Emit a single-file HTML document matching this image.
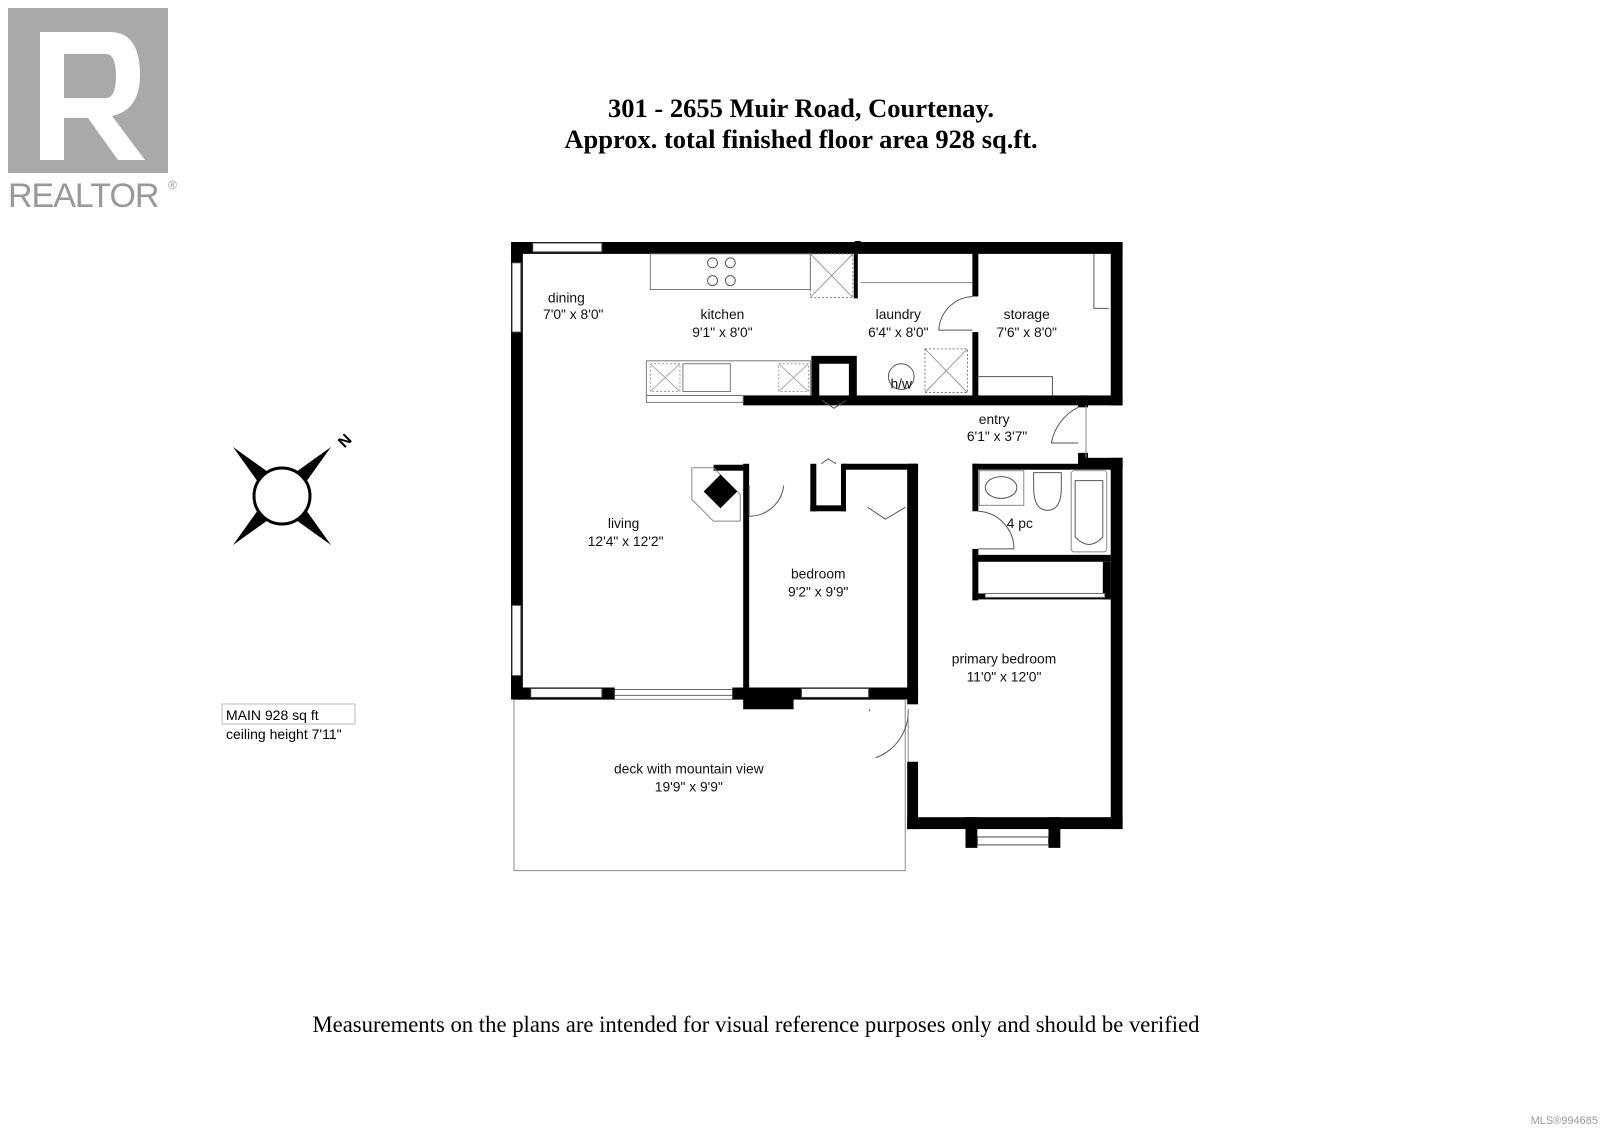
<!DOCTYPE html>
<html><head><meta charset="utf-8"><style>
html,body{margin:0;padding:0;background:#fff;width:1600px;height:1130px;overflow:hidden}
svg{display:block}
.t{font-family:"Liberation Sans",sans-serif;font-size:14px;fill:#111;text-anchor:middle}
.w{fill:#000}
.ln{fill:none;stroke:#555;stroke-width:1}
.win{fill:#fff;stroke:#444;stroke-width:1}
</style></head><body>
<svg width="1600" height="1130" viewBox="0 0 1600 1130" xmlns="http://www.w3.org/2000/svg">
<!-- REALTOR logo -->
<rect x="8" y="8" width="160" height="165" fill="#a9a9a9"/>
<path d="M40 32 H110 Q140 32 140 75 Q140 110 112 116 L145 160 H118 L88 118 H64 V160 H40 Z M64 54 V98 H106 Q116 98 116 76 Q116 54 106 54 Z" fill="#fff"/>
<text x="8" y="207" style="font-family:'Liberation Sans',sans-serif;font-size:34px;fill:#999;letter-spacing:-1px">REALTOR</text>
<text x="168" y="189" style="font-family:'Liberation Sans',sans-serif;font-size:12px;fill:#999">®</text>
<!-- Title -->
<text x="801" y="117" style="font-family:'Liberation Serif',serif;font-weight:bold;font-size:26.5px;text-anchor:middle">301 - 2655 Muir Road, Courtenay.</text>
<text x="801" y="148" style="font-family:'Liberation Serif',serif;font-weight:bold;font-size:26.5px;text-anchor:middle">Approx. total finished floor area 928 sq.ft.</text>
<!-- compass -->
<g transform="translate(282,496)">
<polygon points="-49,-49 -8,-6 -6,-8" fill="#000"/><polygon points="49,-49 8,-6 6,-8" fill="#000"/>
<polygon points="-49,49 -8,6 -6,8" fill="#000"/><polygon points="49,49 8,6 6,8" fill="#000"/>
<polygon points="-49,-49 -14,-24 -24,-14" fill="#000"/><polygon points="49,-49 14,-24 24,-14" fill="#000"/>
<polygon points="-49,49 -14,24 -24,14" fill="#000"/><polygon points="49,49 14,24 24,14" fill="#000"/>
<circle r="28" fill="#fff" stroke="#000" stroke-width="3"/>
<text x="63" y="-50" transform="rotate(-45 63 -55)" style="font-family:'Liberation Sans',sans-serif;font-weight:bold;font-size:16px;text-anchor:middle">N</text>
</g>
<!-- MAIN box -->
<rect x="222" y="704" width="133" height="20" fill="none" stroke="#bbb" stroke-width="1"/>
<text x="226" y="720" style="font-family:'Liberation Sans',sans-serif;font-size:14px">MAIN  928 sq ft</text>
<text x="226" y="739" style="font-family:'Liberation Sans',sans-serif;font-size:14px">ceiling height 7'11"</text>

<g transform="translate(511,242) scale(0.988,0.99) translate(-511,-242)">
<!-- deck -->
<rect x="514" y="704" width="396" height="173" fill="none" stroke="#888" stroke-width="1"/>
<!-- outer walls -->
<rect class="w" x="511" y="242" width="619" height="12"/>
<rect class="w" x="511" y="242" width="12" height="462"/>
<rect class="w" x="1118" y="242" width="12" height="165"/>
<rect class="w" x="746" y="397" width="384" height="10"/>
<rect class="w" x="1118" y="460" width="12" height="375"/>
<rect class="w" x="1085" y="460" width="45" height="10"/>
<rect class="w" x="1085" y="397" width="10" height="12"/>
<rect class="w" x="1085" y="455" width="10" height="12"/>
<line x1="1093" y1="407" x2="1093" y2="460" stroke="#888"/>
<path d="M1085 409 A50 50 0 0 0 1058 445 L1085 445" class="ln"/>
<rect class="w" x="912" y="823" width="218" height="12"/>
<rect class="w" x="971" y="823" width="12" height="31"/>
<rect class="w" x="1055" y="823" width="12" height="31"/>
<rect class="win" x="983" y="843" width="72" height="8"/>
<rect class="w" x="912" y="767" width="11" height="68"/>
<rect class="w" x="912" y="466" width="11" height="243"/>
<path d="M913 714 A50 50 0 0 1 880 763 M874 714 L874 716" class="ln"/>
<line x1="913" y1="714" x2="913" y2="767" stroke="#888"/>
<!-- bottom wall of living -->
<rect class="w" x="511" y="692" width="105" height="12"/>
<rect class="win" x="531" y="693" width="72" height="9"/>
<line x1="616" y1="694" x2="735" y2="694" stroke="#666"/><line x1="616" y1="700" x2="735" y2="700" stroke="#666"/>
<rect class="w" x="735" y="692" width="68" height="12"/>
<rect class="w" x="746" y="692" width="51" height="22"/>
<rect class="w" x="803" y="692" width="120" height="12"/>
<rect class="win" x="805" y="693" width="68" height="9"/>
<!-- left windows -->
<rect class="win" x="512" y="263" width="9" height="70"/>
<rect class="win" x="512" y="609" width="9" height="71"/>
<rect class="win" x="533" y="243" width="70" height="9"/>
<!-- kitchen -->
<rect x="652" y="254" width="162" height="36" fill="none" stroke="#777"/>
<g class="ln"><circle cx="715" cy="263" r="5"/><circle cx="733" cy="263" r="5"/><circle cx="715" cy="281" r="5"/><circle cx="733" cy="281" r="5"/></g>
<rect x="814" y="254" width="43" height="44" fill="none" stroke="#777" stroke-dasharray="2 2"/>
<path d="M814 254 L857 298 M857 254 L814 298" stroke="#999"/>
<rect class="w" x="858" y="254" width="4" height="45"/>
<rect x="648" y="362" width="166" height="35" fill="none" stroke="#777"/>
<rect x="648" y="397" width="98" height="7" fill="none" stroke="#777"/>
<rect x="685" y="365" width="48" height="28" fill="none" stroke="#777"/>
<rect x="652" y="365" width="30" height="28" fill="none" stroke="#999" stroke-dasharray="2 2"/>
<path d="M652 365 L682 393 M682 365 L652 393" stroke="#aaa"/>
<rect x="782" y="365" width="30" height="28" fill="none" stroke="#999" stroke-dasharray="2 2"/>
<path d="M782 365 L812 393 M812 365 L782 393" stroke="#aaa"/>
<!-- closet by kitchen -->
<path d="M819 397 V361 H857 V397" fill="none" stroke="#000" stroke-width="8"/>
<path d="M826 402 L838 410 L850 402" class="ln"/>
<!-- laundry -->
<rect class="w" x="859" y="241" width="6" height="12"/>
<line x1="865" y1="283" x2="978" y2="283" stroke="#888"/>
<rect class="w" x="978" y="242" width="6" height="55"/>
<rect class="w" x="978" y="333" width="6" height="70"/>
<path d="M978 297 A36 36 0 0 0 944 331 L978 331" class="ln"/>
<circle cx="906" cy="378" r="13" class="ln"/>
<rect x="930" y="350" width="43" height="44" fill="none" stroke="#777" stroke-dasharray="2 2"/>
<path d="M930 350 L973 394 M973 350 L930 394" stroke="#999"/>
<!-- storage -->
<path d="M984 378 H1059 V397" class="ln"/>
<path d="M1101 254 V309 H1116" class="ln"/>
<!-- bath -->
<rect class="w" x="978" y="466" width="152" height="6"/>
<rect class="w" x="978" y="466" width="6" height="48"/>
<rect class="w" x="978" y="552" width="6" height="52"/>
<rect class="w" x="978" y="558" width="140" height="7"/>
<rect class="w" x="978" y="597" width="140" height="6"/>
<rect class="w" x="1110" y="565" width="8" height="38"/>
<rect x="991" y="597" width="121" height="4" fill="#fff" stroke="#666"/>
<path d="M984 514 A38 38 0 0 1 1020 552 L984 552" class="ln"/>
<rect x="985" y="473" width="45" height="35" fill="none" stroke="#888"/>
<ellipse cx="1007" cy="490" rx="16" ry="11" class="ln"/>
<path d="M1040 475 H1068 V490 Q1068 513 1054 513 Q1040 513 1040 490 Z" class="ln"/>
<rect x="1078" y="473" width="36" height="82" rx="3" fill="none" stroke="#888"/>
<path d="M1082 483 V540 Q1096 555 1110 540 V483 Z" class="ln"/>
<!-- bedroom -->
<rect class="w" x="746" y="466" width="6" height="226"/>
<rect class="w" x="716" y="467" width="36" height="6"/>
<path d="M752 488 V519 A35 35 0 0 0 787 488" class="ln"/>
<rect class="w" x="814" y="466" width="6" height="48"/>
<rect class="w" x="814" y="508" width="36" height="6"/>
<rect class="w" x="845" y="466" width="5" height="48"/>
<rect class="w" x="848" y="466" width="75" height="6"/>
<path d="M825 466 L832 461 L840 466" class="ln"/>
<path d="M872 510 L890 522 L910 510" class="ln"/>
<!-- fireplace -->
<polygon points="694,470 716,470 743,497 743,524 716,524 694,502" fill="none" stroke="#888"/>
<polygon points="723,477 740,494 723,511 706,494" fill="#000"/>
<!-- labels -->
<text class="t" x="567" y="303">dining</text><text class="t" x="574" y="320">7'0" x 8'0"</text>
<text class="t" x="725" y="320">kitchen</text><text class="t" x="725" y="338">9'1" x 8'0"</text>
<text class="t" x="903" y="320">laundry</text><text class="t" x="903" y="338">6'4" x 8'0"</text>
<text class="t" x="1033" y="320">storage</text><text class="t" x="1033" y="338">7'6" x 8'0"</text>
<text class="t" x="906" y="390">h/w</text>
<text class="t" x="1000" y="426">entry</text><text class="t" x="1003" y="443">6'1" x 3'7"</text>
<text class="t" x="625" y="531">living</text><text class="t" x="627" y="549">12'4" x 12'2"</text>
<text class="t" x="822" y="582">bedroom</text><text class="t" x="822" y="600">9'2" x 9'9"</text>
<text class="t" x="1026" y="531">4 pc</text>
<text class="t" x="1010" y="668">primary bedroom</text><text class="t" x="1010" y="686">11'0" x 12'0"</text>
<text class="t" x="691" y="779">deck with mountain view</text><text class="t" x="691" y="797">19'9" x 9'9"</text>
</g>
<!-- footer -->
<text x="756" y="1032" style="font-family:'Liberation Serif',serif;font-size:22.7px;text-anchor:middle">Measurements on the plans are intended for visual reference purposes only and should be verified</text>
<text x="1598" y="1124" style="font-family:'Liberation Sans',sans-serif;font-size:11px;fill:#999;text-anchor:end">MLS®994685</text>
</svg>
</body></html>
